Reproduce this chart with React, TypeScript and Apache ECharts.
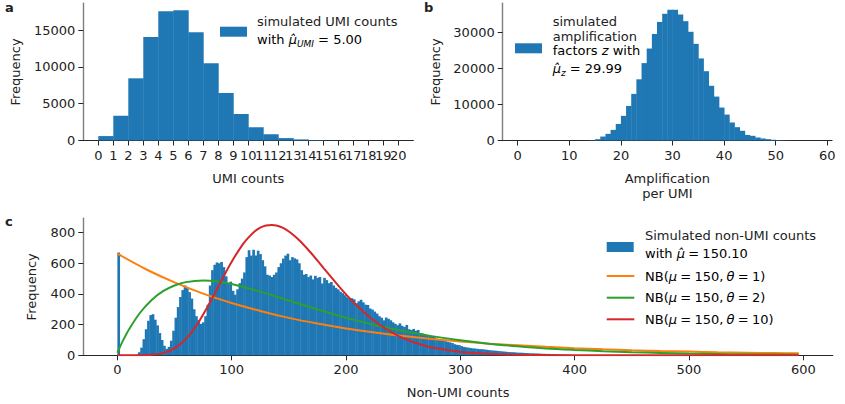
import { useEffect, useRef } from 'react';
import * as echarts from 'echarts';

const FONT = '"DejaVu Sans", "Noto Sans", sans-serif';
const TXT = '#222222';
const BLUE = '#1f77b4';
const ORANGE = '#ff7f0e';
const GREEN = '#2ca02c';
const RED = '#d62728';

// (a) simulated UMI counts, unit-width bins starting at 0
const umiBinStart = 0;
const umiBinWidth = 1;
const umiFreq = [600, 3350, 8450, 14050, 17550, 17700, 14700, 10500, 6450, 3600, 1800, 850, 330, 150, 60, 20, 8, 3, 1, 0];
const umiTicks = [0, 1, 2, 3, 4, 5, 6, 7, 8, 9, 10, 11, 12, 13, 14, 15, 16, 17, 18, 19, 20];
const umiYTicks = [0, 5000, 10000, 15000];

// (b) simulated amplification factors, unit-width bins from 0 to 58
const ampBinStart = 0;
const ampBinWidth = 1;
const ampFreq = [
  0, 0, 0, 0, 0, 0, 0, 0, 0, 0,
  0, 2, 8, 30, 110, 370, 1100, 1850, 2950, 4600,
  6850, 9600, 12950, 17000, 21500, 25550, 29600, 32950, 35200, 36300,
  36300, 35000, 33150, 30200, 26850, 22800, 19250, 15200, 12200, 9150,
  7200, 5000, 3700, 2700, 1550, 1300, 830, 560, 370, 200,
  120, 70, 40, 20, 10, 5, 3, 1,
];
const ampTicks = [0, 10, 20, 30, 40, 50, 60];
const ampYTicks = [0, 10000, 20000, 30000];

// (c) simulated non-UMI counts, bins of width 2 starting at 0
const nonUmiBinStart = 0;
const nonUmiBinWidth = 2;
const nonUmiFreq = [
  670, 0, 0, 0, 0, 0, 0, 0, 4, 20,
  50, 105, 170, 225, 262, 268, 232, 195, 145, 100,
  62, 42, 55, 95, 160, 245, 315, 380, 425, 455,
  440, 412, 370, 300, 255, 230, 205, 215, 255, 330,
  455, 555, 590, 605, 600, 608, 575, 515, 470, 480,
  420, 395, 430, 470, 500, 540, 640, 685, 650, 688,
  650, 682, 660, 620, 580, 525, 520, 510, 525, 540,
  575, 600, 630, 650, 662, 620, 640, 632, 625, 600,
  555, 525, 530, 510, 520, 495, 518, 505, 510, 468,
  505, 490, 470, 478, 455, 440, 430, 415, 405, 392,
  378, 370, 372, 365, 340, 352, 362, 345, 330, 328,
  305, 298, 285, 272, 255, 245, 228, 246, 238, 228,
  215, 205, 196, 208, 192, 185, 198, 170, 165, 172,
  160, 165, 145, 142, 138, 128, 125, 120, 122, 110,
  105, 100, 96, 92, 88, 84, 80, 72, 68, 66,
  60, 55, 52, 50, 47, 45, 44, 42, 40, 40,
  38, 36, 34, 32, 31, 30, 28, 27, 25, 24,
  22, 21, 20, 20, 18, 17, 17, 16, 15, 14,
  13, 13, 12, 12, 11, 10, 10, 9, 9, 8,
  8, 7, 6, 6, 5, 5, 4, 4, 3, 3,
  3, 2, 2, 2, 2, 1, 1, 1, 1, 1,
];
const nonUmiTicks = [0, 100, 200, 300, 400, 500, 600];
const nonUmiYTicks = [0, 200, 400, 600, 800];

// negative binomial reference curves (expected counts)
const nb1X = [0, 25, 50, 75, 100, 125, 150, 175, 200, 225, 250, 275, 300, 325, 350, 375, 400, 425, 450, 475, 500, 525, 550, 575, 596];
const nb1Y = [662, 561, 475, 402, 341, 289, 244, 207, 175, 149, 126, 107, 90, 76, 65, 55, 46, 39, 33, 28, 24, 20, 17, 14.5, 12.6];
const nb2X = [0, 5, 10, 20, 30, 40, 50, 60, 75, 90, 100, 125, 150, 175, 200, 225, 250, 275, 300, 325, 350, 375, 400, 425, 450, 475, 500, 525, 550, 575, 596];
const nb2Y = [17, 97, 167, 279, 361, 418, 455, 477, 487, 478, 465, 415, 357, 299, 245, 198, 158, 125, 98, 76, 59, 45, 35, 26.5, 20, 15.3, 11.5, 8.7, 6.5, 4.9, 3.8];
const nb10X = [0, 10, 20, 30, 40, 50, 60, 70, 80, 90, 100, 110, 115, 120, 125, 130, 135, 140, 145, 150, 155, 160, 170, 180, 190, 200, 210, 220, 230, 240, 250, 260, 270, 280, 290, 300, 320, 340, 360, 380, 400, 450, 500, 596];
const nb10Y = [0, 0, 0.25, 2.8, 14, 45, 107, 204, 331, 473, 610, 726, 770, 807, 832, 846, 850, 844, 830, 807, 778, 743, 662, 572, 483, 397, 320, 253, 196, 150, 112, 83, 61, 44, 32, 22, 11, 5, 2.3, 1, 0.45, 0.06, 0, 0];

// axis extents
const umiRange = [-1, 21];
const ampRange = [-2.9, 60.9];
const nonUmiRange = [-29.8, 625.8];

const binsOf = (start: number, width: number, freq: number[]) =>
  freq.map((f, i) => [start + i * width, start + (i + 1) * width, f]);

const pairs = (xs: number[], ys: number[]) => xs.map((x, i) => [x, ys[i]]);

const histSeries = (axis: number, data: number[][]) => ({
  type: 'custom',
  xAxisIndex: axis,
  yAxisIndex: axis,
  encode: { x: [0, 1], y: 2 },
  data,
  renderItem: (_p: any, api: any) => {
    const top = api.coord([api.value(0), api.value(2)]);
    const base = api.coord([api.value(1), 0]);
    return {
      type: 'rect',
      shape: { x: top[0], y: top[1], width: base[0] - top[0] + 0.4, height: base[1] - top[1] },
      style: { fill: BLUE },
    };
  },
});

const xAxisOf = (grid: number, range: number[], ticks: number[], name: string, nameGap: number) => {
  const last = ticks[ticks.length - 1];
  // a blank label at the axis end keeps every real tick label visible
  const labelValues = range[1] > last ? [...ticks, range[1]] : ticks;
  return {
    type: 'value',
    gridIndex: grid,
    min: range[0],
    max: range[1],
    splitLine: { show: false },
    axisLine: { show: true, onZero: false, lineStyle: { color: '#262626', width: 1.2 } },
    axisTick: { show: true, length: 5, customValues: ticks, lineStyle: { color: '#262626', width: 1 } },
    axisLabel: {
      customValues: labelValues,
      formatter: (v: number) => (v > last ? '' : String(v)),
      showMinLabel: true,
      showMaxLabel: true,
      hideOverlap: false,
      color: TXT,
      fontSize: 13,
      fontFamily: FONT,
      margin: 8,
    },
    name,
    nameLocation: 'middle',
    nameGap,
    nameTextStyle: { color: TXT, fontSize: 13, fontFamily: FONT, lineHeight: 14.5 },
  };
};

const yAxisOf = (grid: number, max: number, ticks: number[], nameGap: number) => ({
  type: 'value',
  gridIndex: grid,
  min: 0,
  max,
  splitLine: { show: false },
  axisLine: { show: true, onZero: false, lineStyle: { color: '#7f7f7f', width: 1.4 } },
  axisTick: { show: true, length: 5, customValues: ticks, lineStyle: { color: '#262626', width: 1 } },
  axisLabel: {
    customValues: ticks,
    formatter: (v: number) => String(v),
    showMinLabel: true,
    showMaxLabel: true,
    color: TXT,
    fontSize: 13,
    fontFamily: FONT,
    margin: 8,
  },
  name: 'Frequency',
  nameLocation: 'middle',
  nameGap,
  nameTextStyle: { color: TXT, fontSize: 13, fontFamily: FONT },
});

const rich = {
  n: { fontSize: 13, fontFamily: FONT, color: TXT, lineHeight: 18 },
  i: { fontSize: 13, fontFamily: FONT, color: TXT, fontStyle: 'italic', lineHeight: 18 },
  s: { fontSize: 9, fontFamily: FONT, color: TXT, fontStyle: 'italic', verticalAlign: 'bottom' },
};

const label = (x: number, y: number, text: string, bold = false) => ({
  type: 'text',
  x,
  y,
  style: {
    text,
    fill: TXT,
    font: `${bold ? 'bold ' : ''}13px ${FONT}`,
    verticalAlign: 'middle',
    align: 'left',
  },
});

const richLabel = (x: number, y: number, text: string) => ({
  type: 'text',
  x,
  y,
  style: { text, rich, verticalAlign: 'middle', align: 'left' },
});

const patch = (x: number, y: number) => ({
  type: 'rect',
  shape: { x, y, width: 27, height: 10 },
  style: { fill: BLUE },
});

const keyLine = (x: number, y: number, color: string) => ({
  type: 'line',
  shape: { x1: x, y1: y, x2: x + 27.6, y2: y },
  style: { stroke: color, lineWidth: 2 },
});

// math-style spacing around relations in the legend entries
const SP = '\u2005';
const nbText = (theta: number) =>
  `{n|NB(}{i|\u03bc}{n|${SP}=${SP}150,${SP}}{i|\u03b8}{n|${SP}=${SP}${theta})}`;

export default function App() {
  const ref = useRef<HTMLDivElement>(null);

  useEffect(() => {
    if (!ref.current) return;
    const chart = echarts.init(ref.current, null, { renderer: 'svg' });
    const lineSeries = (xs: number[], ys: number[], color: string) => ({
      type: 'line',
      xAxisIndex: 2,
      yAxisIndex: 2,
      data: pairs(xs, ys),
      showSymbol: false,
      smooth: 0.3,
      lineStyle: { color, width: 2 },
      itemStyle: { color },
    });

    chart.setOption({
      animation: false,
      backgroundColor: '#ffffff',
      grid: [
        { left: 83.3, top: 3.3, width: 330, height: 137.2 },
        { left: 502.7, top: 3.3, width: 329.3, height: 137.2 },
        { left: 83.3, top: 218.3, width: 749.5, height: 137 },
      ],
      xAxis: [
        xAxisOf(0, umiRange, umiTicks, 'UMI counts', 31),
        xAxisOf(1, ampRange, ampTicks, 'Amplification\nper UMI', 31),
        xAxisOf(2, nonUmiRange, nonUmiTicks, 'Non-UMI counts', 30),
      ],
      yAxis: [
        yAxisOf(0, 18640, umiYTicks, 61),
        yAxisOf(1, 38115, ampYTicks, 61),
        yAxisOf(2, 893, nonUmiYTicks, 45),
      ],
      series: [
        histSeries(0, binsOf(umiBinStart, umiBinWidth, umiFreq)),
        histSeries(1, binsOf(ampBinStart, ampBinWidth, ampFreq)),
        histSeries(2, binsOf(nonUmiBinStart, nonUmiBinWidth, nonUmiFreq)),
        lineSeries(nb1X, nb1Y, ORANGE),
        lineSeries(nb2X, nb2Y, GREEN),
        lineSeries(nb10X, nb10Y, RED),
      ],
      graphic: [
        label(5, 7, 'a', true),
        label(424, 7, 'b', true),
        label(5, 221, 'c', true),
        // legend (a)
        patch(220, 26.7),
        label(257, 21.5, 'simulated UMI counts'),
        richLabel(257, 39.5, '{n|with }{i|\u03bc\u0302}{s|UMI}{n| = 5.00}'),
        // legend (b)
        patch(515, 43.3),
        label(552.7, 21.7, 'simulated'),
        label(552.7, 36, 'amplification'),
        richLabel(552.7, 50.3, '{n|factors }{i|z}{n| with}'),
        richLabel(552.7, 68, '{i|\u03bc\u0302}{s|z}{n| = 29.99}'),
        // legend (c)
        patch(606.7, 242),
        label(645, 235, 'Simulated non-UMI counts'),
        richLabel(645, 253.3, `{n|with }{i|\u03bc\u0302}{n|${SP}=${SP}150.10}`),
        keyLine(606.7, 276, ORANGE),
        richLabel(645, 276, nbText(1)),
        keyLine(606.7, 297.7, GREEN),
        richLabel(645, 297.7, nbText(2)),
        keyLine(606.7, 319.3, RED),
        richLabel(645, 319.3, nbText(10)),
      ],
    });

    return () => chart.dispose();
  }, []);

  return (
    <div
      ref={ref}
      style={{ position: 'fixed', left: 0, top: 0, width: 845, height: 404, background: '#fff' }}
    />
  );
}
